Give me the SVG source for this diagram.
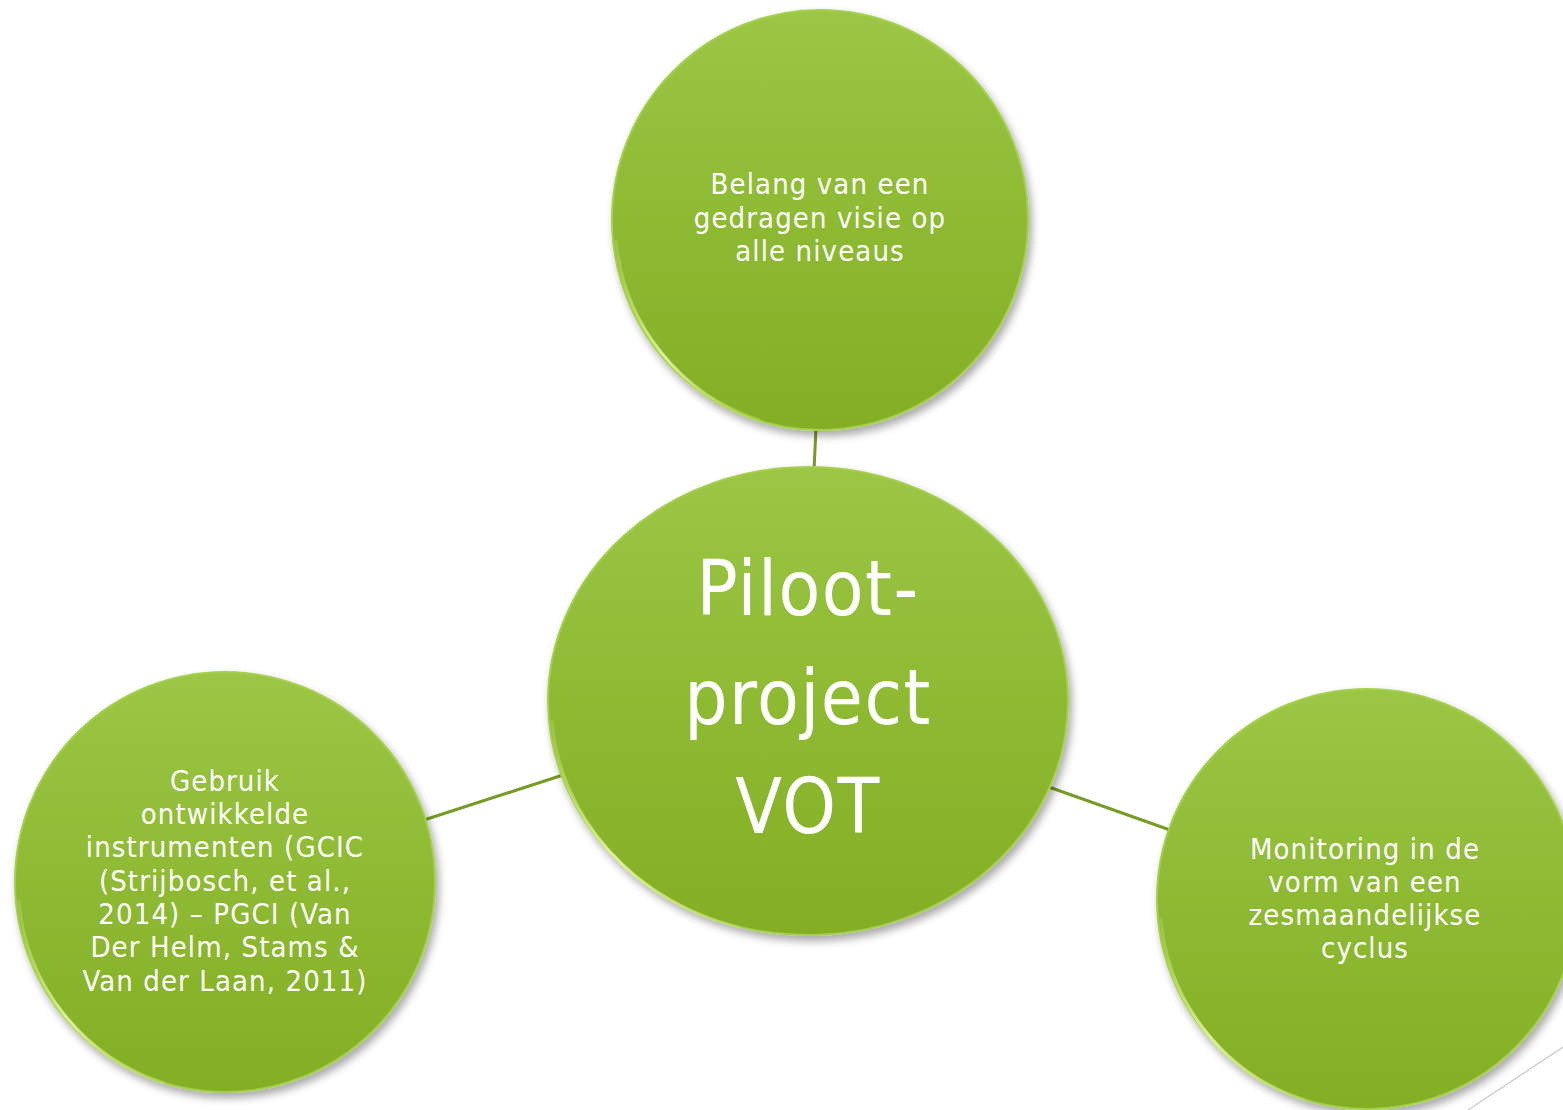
<svg xmlns="http://www.w3.org/2000/svg" width="1563" height="1110" viewBox="0 0 1563 1110">
<defs>
<linearGradient id="g" x1="0" y1="0" x2="0" y2="1">
<stop offset="0" stop-color="#9cc645"/>
<stop offset="0.5" stop-color="#8eba33"/>
<stop offset="1" stop-color="#84ae24"/>
</linearGradient>
<linearGradient id="rim" x1="0" y1="0" x2="1" y2="1">
<stop offset="0" stop-color="#d6f08a" stop-opacity="0.2"/>
<stop offset="0.5" stop-color="#e6f7a8" stop-opacity="0.9"/>
<stop offset="1" stop-color="#c8e870" stop-opacity="0.3"/>
</linearGradient>
<filter id="sh" x="-10%" y="-10%" width="125%" height="125%">
<feGaussianBlur in="SourceAlpha" stdDeviation="4"/>
<feOffset dx="3" dy="5" result="b"/>
<feComponentTransfer><feFuncA type="linear" slope="0.35"/></feComponentTransfer>
<feMerge><feMergeNode/><feMergeNode in="SourceGraphic"/></feMerge>
</filter>
</defs>
<style>
.node{fill:url(#g);stroke:#a5d04e;stroke-width:2;filter:url(#sh)}
.rim{fill:none;stroke:url(#rim);stroke-width:3}
.conn{stroke:#789a26;stroke-width:3;fill:none}
.t{font-family:"DejaVu Sans Condensed","DejaVu Sans",sans-serif;fill:#ffffff;text-anchor:middle;font-size:29px;letter-spacing:1.1px}
.big{font-size:76px;letter-spacing:1.5px}
</style>
<rect width="1563" height="1110" fill="#ffffff"/>
<line x1="1563" y1="1047" x2="1468" y2="1110" stroke="#cfcfcf" stroke-width="1.5"/>
<g id="connectors">
<line class="conn" x1="816" y1="428" x2="814" y2="470"/>
<line class="conn" x1="424" y1="820" x2="563" y2="775"/>
<line class="conn" x1="1046" y1="786" x2="1170" y2="830"/>
</g>
<g id="node-top">
<ellipse class="node" cx="820" cy="220" rx="208" ry="210"/>
<path class="rim" d="M 616 240 A 206 208 0 0 0 760 420"/>
<text class="t" x="820" y="194">Belang van een</text>
<text class="t" x="820" y="228">gedragen visie op</text>
<text class="t" x="820" y="261">alle niveaus</text>
</g>
<g id="node-center">
<ellipse class="node" cx="808" cy="701" rx="260" ry="234"/>
<path class="rim" d="M 552 720 A 258 232 0 0 0 740 928"/>
<text class="t big" x="808" y="615">Piloot-</text>
<text class="t big" x="808" y="724">project</text>
<text class="t big" x="808" y="833">VOT</text>
</g>
<g id="node-left">
<ellipse class="node" cx="225" cy="882" rx="210" ry="210"/>
<path class="rim" d="M 19 900 A 208 208 0 0 0 165 1083"/>
<text class="t" x="225" y="791">Gebruik</text>
<text class="t" x="225" y="824">ontwikkelde</text>
<text class="t" x="225" y="857">instrumenten (GCIC</text>
<text class="t" x="225" y="891">(Strijbosch, et al.,</text>
<text class="t" x="225" y="924">2014) – PGCI (Van</text>
<text class="t" x="225" y="957">Der Helm, Stams &amp;</text>
<text class="t" x="225" y="991">Van der Laan, 2011)</text>
</g>
<g id="node-right">
<ellipse class="node" cx="1367" cy="899" rx="210" ry="210"/>
<path class="rim" d="M 1161 918 A 208 208 0 0 0 1305 1100"/>
<text class="t" x="1365" y="859">Monitoring in de</text>
<text class="t" x="1365" y="892">vorm van een</text>
<text class="t" x="1365" y="925">zesmaandelijkse</text>
<text class="t" x="1365" y="958">cyclus</text>
</g>
</svg>
